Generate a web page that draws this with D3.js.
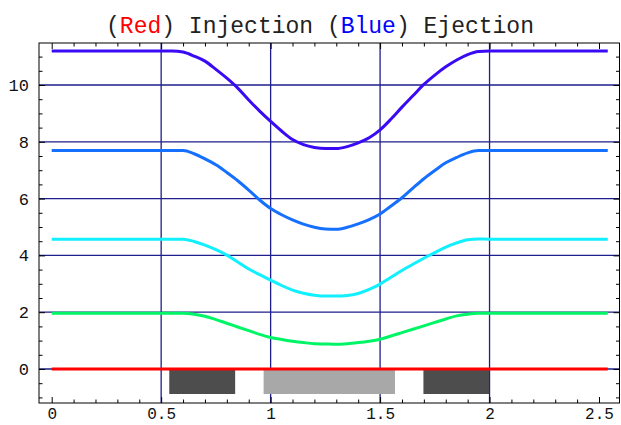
<!DOCTYPE html>
<html>
<head>
<meta charset="utf-8">
<script src="https://cdn.jsdelivr.net/npm/d3@7"></script>
<style>
  html, body { margin: 0; padding: 0; background: #fff; }
  svg { display: block; }
</style>
</head>
<body>
<div id="chart"></div>
<script>
// Injection / ejection profiles

const xs = [0, 0.5, 0.55, 0.6, 0.65, 0.7, 0.75, 0.8, 0.85, 0.9, 0.95, 1.0, 1.05, 1.1, 1.15,
            1.2, 1.25, 1.3, 1.35, 1.4, 1.45, 1.5, 1.55, 1.6, 1.65, 1.7, 1.75, 1.8, 1.85,
            1.9, 1.95, 2.0, 2.54];

const level4 = [11.2, 11.2, 11.2, 11.16, 11.02, 10.84, 10.55, 10.24, 9.89, 9.47, 9.08, 8.72, 8.38, 8.08, 7.90,
                7.80, 7.76, 7.76, 7.83, 7.96, 8.14, 8.42, 8.80, 9.22, 9.62, 10.02, 10.35, 10.64, 10.88,
                11.07, 11.18, 11.2, 11.2];
const level3 = [7.69, 7.69, 7.69, 7.69, 7.58, 7.40, 7.19, 6.92, 6.63, 6.30, 5.95, 5.65, 5.43, 5.25, 5.10,
                4.99, 4.93, 4.92, 4.99, 5.11, 5.26, 5.46, 5.74, 6.03, 6.37, 6.70, 6.99, 7.26, 7.45,
                7.61, 7.69, 7.69, 7.69];
const level2 = [4.57, 4.57, 4.57, 4.57, 4.49, 4.36, 4.20, 4.01, 3.77, 3.52, 3.32, 3.13, 2.94, 2.78, 2.67,
                2.60, 2.57, 2.57, 2.59, 2.66, 2.80, 2.99, 3.23, 3.47, 3.69, 3.90, 4.10, 4.29, 4.44,
                4.55, 4.58, 4.57, 4.57];
const level1 = [1.96, 1.96, 1.96, 1.96, 1.93, 1.86, 1.74, 1.61, 1.48, 1.35, 1.22, 1.11, 1.04, 0.98, 0.93,
                0.89, 0.88, 0.87, 0.89, 0.93, 0.98, 1.05, 1.16, 1.28, 1.40, 1.52, 1.64, 1.76, 1.87,
                1.93, 1.96, 1.96, 1.96];
const level0 = xs.map(() => 0);

const seriesColors = ['#ff0000', '#00f566', '#10f0ff', '#1570ff', '#3a0af5'];
const seriesValues = [level0, level1, level2, level3, level4];

// gray blocks under the axis: [start, end]
const blockStart = [0.537, 0.968, 1.698];
const blockEnd   = [0.838, 1.568, 1.998];
const blockFill  = ['#4d4d4d', '#a8a8a8', '#4d4d4d'];
const blockBottom = -0.88;

const xMajor = [0, 0.5, 1, 1.5, 2, 2.5];
const xTickLabels = ['0', '0.5', '1', '1.5', '2', '2.5'];
const yMajor = [0, 2, 4, 6, 8, 10];
const yTickLabels = ['0', '2', '4', '6', '8', '10'];
const xGridLines = [0.5, 1, 1.5, 2];
const yGridLines = [0, 2, 4, 6, 8, 10];

const W = 621, H = 425;
const frame = { left: 39, right: 619.5, top: 43, bottom: 403 };

const x = d3.scaleLinear().domain([0, 2.5]).range([51.7, 599]);
const y = d3.scaleLinear().domain([0, 10]).range([369, 85]);

const svg = d3.select('#chart').append('svg')
    .attr('width', W).attr('height', H)
    .style('background', '#fff');

const FONT = '"Liberation Mono", "DejaVu Sans Mono", monospace';

// Title
const title = svg.append('text')
    .attr('x', 320).attr('y', 33)
    .attr('text-anchor', 'middle')
    .attr('font-family', FONT).attr('font-size', 23)
    .style('white-space', 'pre');
[['(', '#222'], ['Red', '#ff0000'], [') Injection (', '#222'], ['Blue', '#0000ff'], [') Ejection', '#222']]
    .forEach(([t, c]) => title.append('tspan').attr('fill', c).text(t));

// Grid
const grid = svg.append('g').attr('stroke', '#1e1e8c').attr('stroke-width', 1.3);
grid.selectAll('line.v').data(xGridLines).enter().append('line')
    .attr('x1', d => x(d)).attr('x2', d => x(d))
    .attr('y1', frame.top).attr('y2', frame.bottom);
grid.selectAll('line.h').data(yGridLines).enter().append('line')
    .attr('x1', frame.left).attr('x2', frame.right)
    .attr('y1', d => y(d)).attr('y2', d => y(d));

// Blocks
svg.append('g').selectAll('rect').data(blockStart).enter().append('rect')
    .attr('x', (d, i) => x(d))
    .attr('width', (d, i) => x(blockEnd[i]) - x(d))
    .attr('y', y(0))
    .attr('height', y(blockBottom) - y(0))
    .attr('fill', (d, i) => blockFill[i]);

// Curves
const line = d3.line().x((d, i) => x(xs[i])).y(d => y(d)).curve(d3.curveMonotoneX);
svg.append('g').selectAll('path').data(seriesValues).enter().append('path')
    .attr('d', d => line(d))
    .attr('fill', 'none')
    .attr('stroke', (d, i) => seriesColors[i])
    .attr('stroke-width', 3)
    .attr('stroke-linejoin', 'round');

// Ticks (inward on all four sides, labels bottom/left)
const xMinor = d3.range(0, 2.55, 0.1).filter(v => xMajor.every(m => Math.abs(m - v) > 1e-6));
const yMinor = d3.range(-1, 11.1, 0.5).filter(v => yMajor.every(m => Math.abs(m - v) > 1e-6));

function styleAxis(g, size) {
    g.select('.domain').remove();
    g.selectAll('line').attr('stroke', '#000');
    g.selectAll('text').attr('font-family', FONT).attr('font-size', size || 17).attr('fill', '#111');
}

svg.append('g').attr('transform', `translate(0,${frame.bottom})`)
    .call(d3.axisBottom(x).tickValues(xMajor).tickSize(-6).tickPadding(5)
        .tickFormat((d, i) => xTickLabels[i]))
    .call(styleAxis, 16);
svg.append('g').attr('transform', `translate(0,${frame.bottom})`)
    .call(d3.axisBottom(x).tickValues(xMinor).tickSize(-3.5).tickFormat(''))
    .call(styleAxis);
svg.append('g').attr('transform', `translate(0,${frame.top})`)
    .call(d3.axisTop(x).tickValues(xMajor).tickSize(-6).tickFormat(''))
    .call(styleAxis);
svg.append('g').attr('transform', `translate(0,${frame.top})`)
    .call(d3.axisTop(x).tickValues(xMinor).tickSize(-3.5).tickFormat(''))
    .call(styleAxis);

svg.append('g').attr('transform', `translate(${frame.left},0)`)
    .call(d3.axisLeft(y).tickValues(yMajor).tickSize(-6).tickPadding(10)
        .tickFormat((d, i) => yTickLabels[i]))
    .call(styleAxis);
svg.append('g').attr('transform', `translate(${frame.left},0)`)
    .call(d3.axisLeft(y).tickValues(yMinor).tickSize(-3.5).tickFormat(''))
    .call(styleAxis);
svg.append('g').attr('transform', `translate(${frame.right},0)`)
    .call(d3.axisRight(y).tickValues(yMajor).tickSize(-6).tickFormat(''))
    .call(styleAxis);
svg.append('g').attr('transform', `translate(${frame.right},0)`)
    .call(d3.axisRight(y).tickValues(yMinor).tickSize(-3.5).tickFormat(''))
    .call(styleAxis);

// Frame
svg.append('rect')
    .attr('x', frame.left).attr('y', frame.top)
    .attr('width', frame.right - frame.left).attr('height', frame.bottom - frame.top)
    .attr('fill', 'none').attr('stroke', '#000').attr('stroke-width', 1);
</script>
</body>
</html>
